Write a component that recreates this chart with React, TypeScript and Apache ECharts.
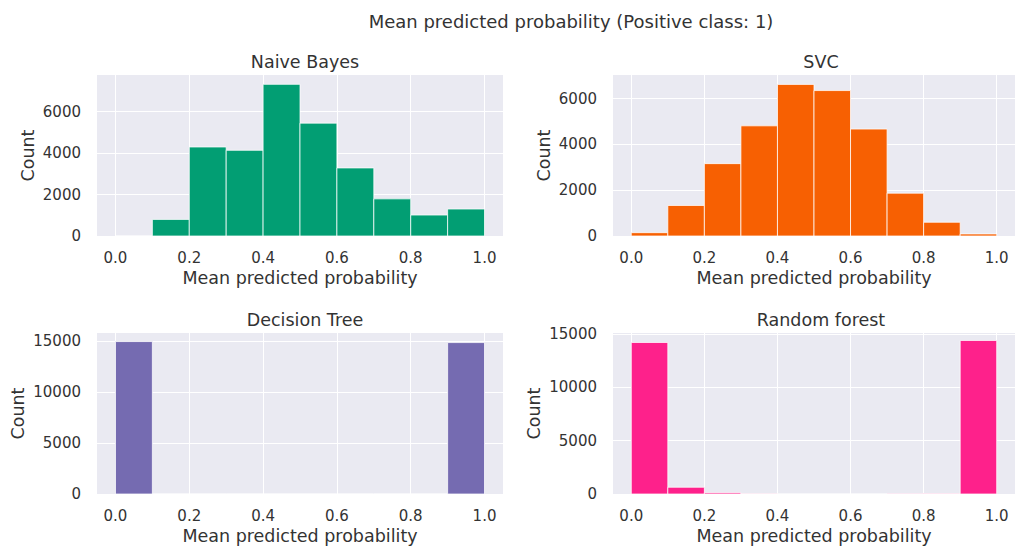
import React, { useEffect, useRef } from "react";
import * as echarts from "echarts";

const binEdges = [0, 0.1, 0.2, 0.3, 0.4, 0.5, 0.6, 0.7, 0.8, 0.9, 1.0];
const xTicks = [0, 0.2, 0.4, 0.6, 0.8, 1.0];

const naiveBayesCounts = [0, 800, 4290, 4130, 7310, 5440, 3280, 1790, 1010, 1300];
const svcCounts = [145, 1333, 3160, 4810, 6620, 6350, 4670, 1870, 600, 90];
const decisionTreeCounts = [14940, 0, 0, 0, 0, 0, 0, 0, 0, 14840];
const randomForestCounts = [14210, 633, 120, 30, 10, 10, 10, 20, 40, 14400];

const yTicksSmall = [0, 2000, 4000, 6000];
const yTicksLarge = [0, 5000, 10000, 15000];

const panelTitles = ["Naive Bayes", "SVC", "Decision Tree", "Random forest"];
const colors = ["#029e73", "#f76002", "#756bb1", "#fe218b"];
const suptitle = "Mean predicted probability (Positive class: 1)";
const xLabel = "Mean predicted probability";
const yLabel = "Count";

const FONT = "DejaVu Sans";
const TXT = "#333333";

export default function App() {
  const ref = useRef<HTMLDivElement>(null);
  useEffect(() => {
    if (!ref.current) return;
    const chart = echarts.init(ref.current, undefined, { renderer: "svg" });
    const countsList = [naiveBayesCounts, svcCounts, decisionTreeCounts, randomForestCounts];
    const yMaxes = [7760, 7030, 15780, 15100];
    const yTicksList = [yTicksSmall, yTicksSmall, yTicksLarge, yTicksLarge];
    const grids = [
      { left: 97, top: 75, width: 406, height: 161 },
      { left: 613, top: 75, width: 406, height: 161 },
      { left: 97, top: 333, width: 406, height: 161 },
      { left: 613, top: 333, width: 406, height: 161 },
    ];
    const nameGaps = [60, 60, 70, 70];
    const option: any = {
      animation: false,
      backgroundColor: "#ffffff",
      textStyle: { fontFamily: FONT },
      title: [
        {
          text: suptitle,
          left: 566,
          top: 7,
          textAlign: "center",
          textStyle: { fontFamily: FONT, fontSize: 18, fontWeight: "normal", color: TXT },
        },
        ...panelTitles.map((t, i) => ({
          text: t,
          left: grids[i].left + grids[i].width / 2,
          top: grids[i].top - 27,
          textAlign: "center",
          textStyle: { fontFamily: FONT, fontSize: 17.5, fontWeight: "normal", color: TXT },
        })),
      ],
      grid: grids.map((g) => ({
        ...g,
        show: true,
        backgroundColor: "#eaeaf2",
        borderWidth: 0,
        containLabel: false,
      })),
      xAxis: grids.map((_, i) => ({
        type: "value",
        gridIndex: i,
        min: -0.05,
        max: 1.05,
        name: xLabel,
        nameLocation: "middle",
        nameGap: 33,
        nameTextStyle: { fontFamily: FONT, fontSize: 17.5, color: TXT },
        axisLine: { show: false },
        axisTick: { show: false, customValues: xTicks },
        axisLabel: {
          customValues: xTicks,
          formatter: (v: number) => v.toFixed(1),
          fontFamily: FONT,
          fontSize: 15,
          color: TXT,
          margin: 14,
        },
        splitLine: { show: true, lineStyle: { color: "#ffffff", width: 1 } },
      })),
      yAxis: grids.map((_, i) => ({
        type: "value",
        gridIndex: i,
        min: 0,
        max: yMaxes[i],
        name: yLabel,
        nameLocation: "middle",
        nameGap: nameGaps[i],
        nameRotate: 90,
        nameTextStyle: { fontFamily: FONT, fontSize: 17.5, color: TXT },
        axisLine: { show: false },
        axisTick: { show: false, customValues: yTicksList[i] },
        axisLabel: {
          customValues: yTicksList[i],
          formatter: (v: number) => String(Math.round(v)),
          fontFamily: FONT,
          fontSize: 15,
          color: TXT,
          margin: 16,
        },
        splitLine: { show: true, lineStyle: { color: "#ffffff", width: 1 } },
      })),
      series: countsList.map((counts, i) => ({
        type: "custom",
        xAxisIndex: i,
        yAxisIndex: i,
        data: counts.map((c, k) => [binEdges[k], binEdges[k + 1], c]),
        encode: { x: [0, 1], y: 2 },
        renderItem: (params: any, api: any) => {
          const x0 = api.value(0);
          const x1 = api.value(1);
          const y = api.value(2);
          const p0 = api.coord([x0, y]);
          const p1 = api.coord([x1, 0]);
          return {
            type: "rect",
            shape: { x: p0[0], y: p0[1], width: p1[0] - p0[0], height: p1[1] - p0[1] },
            style: { fill: colors[i], stroke: "rgba(255,255,255,0.75)", lineWidth: 1 },
          };
        },
      })),
    };
    chart.setOption(option);
    return () => chart.dispose();
  }, []);
  return (
    <div
      ref={ref}
      style={{ position: "fixed", left: 0, top: 0, width: 1015, height: 549 }}
    />
  );
}
